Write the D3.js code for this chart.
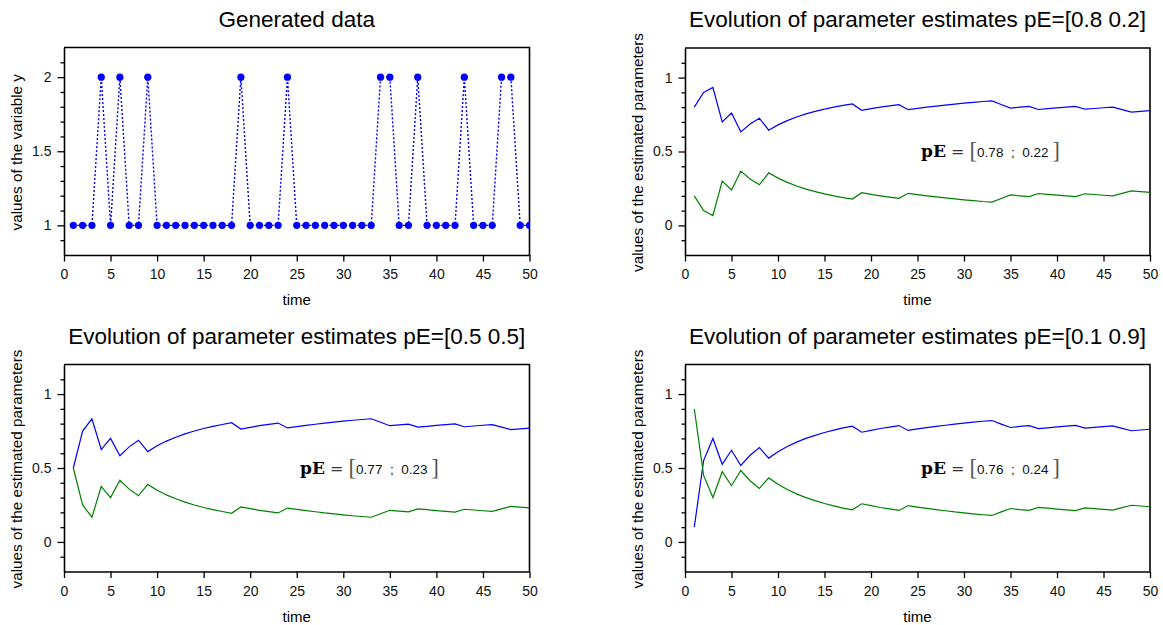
<!DOCTYPE html>
<html>
<head>
<meta charset="utf-8">
<script src="https://cdn.jsdelivr.net/npm/d3@7"></script>
<style>
  body { margin: 0; background: #fff; }
  svg { font-family: "Liberation Sans", Arial, sans-serif; }
</style>
</head>
<body>
<svg id="fig" width="1163" height="625"></svg>
<script>
// observations y(t), t = 1..50
const time = d3.range(1, 51)
const yData = [1,1,1,2,1,2,1,1,2,1, 1,1,1,1,1,1,1,1,2,1, 1,1,1,2,1,1,1,1,1,1,
               1,1,1,2,2,1,1,2,1,1, 1,1,2,1,1,1,2,2,1,1]

// estimates with prior pE=[0.8 0.2]
const est08_1 = [0.8,0.9,0.933,0.7,0.76,0.633,0.686,0.725,0.644,0.68,
  0.709,0.733,0.754,0.771,0.787,0.8,0.812,0.822,0.779,0.79,
  0.8,0.809,0.817,0.783,0.792,0.8,0.807,0.814,0.821,0.827,
  0.832,0.838,0.842,0.818,0.794,0.8,0.805,0.784,0.79,0.795,
  0.8,0.805,0.786,0.791,0.796,0.8,0.783,0.767,0.771,0.776]
const est08_2 = [0.2,0.1,0.067,0.3,0.24,0.367,0.314,0.275,0.356,0.32,
  0.291,0.267,0.246,0.229,0.213,0.2,0.188,0.178,0.221,0.21,
  0.2,0.191,0.183,0.217,0.208,0.2,0.193,0.186,0.179,0.173,
  0.168,0.162,0.158,0.182,0.206,0.2,0.195,0.216,0.21,0.205,
  0.2,0.195,0.214,0.209,0.204,0.2,0.217,0.233,0.229,0.224]

// estimates with prior pE=[0.5 0.5]
const est05_1 = [0.5,0.75,0.833,0.625,0.7,0.583,0.643,0.688,0.611,0.65,
  0.682,0.708,0.731,0.75,0.767,0.781,0.794,0.806,0.763,0.775,
  0.786,0.795,0.804,0.771,0.78,0.788,0.796,0.804,0.81,0.817,
  0.823,0.828,0.833,0.809,0.786,0.792,0.797,0.776,0.782,0.788,
  0.793,0.798,0.779,0.784,0.789,0.793,0.777,0.76,0.765,0.77]
const est05_2 = [0.5,0.25,0.167,0.375,0.3,0.417,0.357,0.312,0.389,0.35,
  0.318,0.292,0.269,0.25,0.233,0.219,0.206,0.194,0.237,0.225,
  0.214,0.205,0.196,0.229,0.22,0.212,0.204,0.196,0.19,0.183,
  0.177,0.172,0.167,0.191,0.214,0.208,0.203,0.224,0.218,0.212,
  0.207,0.202,0.221,0.216,0.211,0.207,0.223,0.24,0.235,0.23]

// estimates with prior pE=[0.1 0.9]
const est01_1 = [0.1,0.55,0.7,0.525,0.62,0.517,0.586,0.638,0.567,0.61,
  0.645,0.675,0.7,0.721,0.74,0.756,0.771,0.783,0.742,0.755,
  0.767,0.777,0.787,0.754,0.764,0.773,0.781,0.789,0.797,0.803,
  0.81,0.816,0.821,0.797,0.774,0.781,0.786,0.766,0.772,0.778,
  0.783,0.788,0.77,0.775,0.78,0.785,0.768,0.752,0.757,0.762]
const est01_2 = [0.9,0.45,0.3,0.475,0.38,0.483,0.414,0.362,0.433,0.39,
  0.355,0.325,0.3,0.279,0.26,0.244,0.229,0.217,0.258,0.245,
  0.233,0.223,0.213,0.246,0.236,0.227,0.219,0.211,0.203,0.197,
  0.19,0.184,0.179,0.203,0.226,0.219,0.214,0.234,0.228,0.222,
  0.217,0.212,0.23,0.225,0.22,0.215,0.232,0.248,0.243,0.238]

const xTicks = [0, 5, 10, 15, 20, 25, 30, 35, 40, 45, 50]
const yTicksData = [1, 1.5, 2]
const yTicksEst = [0, 0.5, 1]
const finals = [["0.78", "0.22"], ["0.77", "0.23"], ["0.76", "0.24"]]

const svg = d3.select('#fig')

function panel (box, yDomain, yMajor, yMinor, title, ylabel, id) {
    const g = svg.append('g')
    const x = d3.scaleLinear().domain([0, 50]).range([box.left, box.right])
    const y = d3.scaleLinear().domain(yDomain).range([box.bottom, box.top])

    /*clip*/
    svg.append('clipPath').attr('id', id)
        .append('rect')
        .attr('x', box.left).attr('y', box.top)
        .attr('width', box.right - box.left).attr('height', box.bottom - box.top)

    /*minor ticks*/
    g.append('g')
        .attr('transform', `translate(${box.left},0)`)
        .call(d3.axisLeft(y).tickValues(yMinor).tickSize(3.5).tickFormat(''))
        .call(a => a.select('.domain').remove())

    /*y axis*/
    g.append('g')
        .attr('class', 'ax')
        .attr('transform', `translate(${box.left},0)`)
        .call(d3.axisLeft(y).tickValues(yMajor).tickSize(6.5).tickPadding(6).tickSizeOuter(0)
            .tickFormat(d3.format('')))

    /*x axis*/
    g.append('g')
        .attr('class', 'ax')
        .attr('transform', `translate(0,${box.bottom})`)
        .call(d3.axisBottom(x).tickValues(xTicks).tickSize(6.5).tickPadding(8).tickSizeOuter(0))

    /*box top + right*/
    g.append('path')
        .attr('d', `M${box.left},${box.top}H${box.right}V${box.bottom}`)
        .attr('fill', 'none').attr('stroke', '#000').attr('stroke-width', 1.6)

    g.selectAll('.tick line').attr('stroke', '#000').attr('stroke-width', 1.3)
    g.selectAll('.domain').attr('stroke', '#000').attr('stroke-width', 1.6)
    g.selectAll('.tick text').attr('font-size', 14).attr('fill', '#111')
        .attr('font-family', '"Liberation Sans", Arial, sans-serif')

    const cx = (box.left + box.right) / 2
    g.append('text')
        .attr('x', cx).attr('y', box.top - 21)
        .attr('text-anchor', 'middle')
        .attr('font-size', 22.5)
        .text(title)

    g.append('text')
        .attr('x', cx).attr('y', box.bottom + 50)
        .attr('text-anchor', 'middle')
        .attr('font-size', 15)
        .text('time')

    g.append('text')
        .attr('transform', `translate(${box.left - 42},${(box.top + box.bottom) / 2 + 1}) rotate(-90)`)
        .attr('text-anchor', 'middle')
        .attr('font-size', 15.3)
        .text(ylabel)

    const plot = g.append('g').attr('clip-path', `url(#${id})`)
    return { x, y, plot, g }
}

function estPanel (box, s1, s2, title, fin, id) {
    const p = panel(box, [-0.2, 1.2], yTicksEst,
        [-0.1, 0.1, 0.2, 0.3, 0.4, 0.6, 0.7, 0.8, 0.9, 1.1], title,
        'values of the estimated parameters', id)
    const line = d3.line().x((d, i) => p.x(time[i])).y(d => p.y(d))
    p.plot.append('path').datum(s1).attr('d', line)
        .attr('fill', 'none').attr('stroke', '#0000ff').attr('stroke-width', 1.2)
    p.plot.append('path').datum(s2).attr('d', line)
        .attr('fill', 'none').attr('stroke', '#008000').attr('stroke-width', 1.2)

    /*pE annotation*/
    const t = p.g.append('text')
        .attr('x', box.left + 236).attr('y', p.y(0.46))
        .attr('xml:space', 'preserve')
    t.append('tspan').attr('font-family', '"DejaVu Serif", serif').attr('font-weight', 'bold')
        .attr('font-size', 17).text('pE')
    t.append('tspan').attr('font-family', '"DejaVu Serif", serif').attr('font-size', 16)
        .attr('fill', '#333').text(' = ')
    t.append('tspan').attr('font-family', '"Liberation Serif", serif').attr('font-size', 23)
        .attr('fill', '#555').attr('dy', 1).text('[')
    t.append('tspan').attr('font-size', 13.5).attr('fill', '#111').attr('dy', -1)
        .text(`${fin[0]}  ;  ${fin[1]} `)
    t.append('tspan').attr('font-family', '"Liberation Serif", serif').attr('font-size', 23)
        .attr('fill', '#555').attr('dy', 1).text(']')
}

/*generated data*/
const p0 = panel({ left: 64, right: 529.5, top: 47.5, bottom: 255 }, [0.8, 2.2], yTicksData,
    [0.9, 1.1, 1.2, 1.3, 1.4, 1.6, 1.7, 1.8, 1.9, 2.1], 'Generated data',
    'values of the variable y', 'c0')
p0.plot.append('path').datum(yData)
    .attr('d', d3.line().x((d, i) => p0.x(time[i])).y(d => p0.y(d)))
    .attr('fill', 'none').attr('stroke', '#0000ff').attr('stroke-width', 1.4)
    .attr('stroke-dasharray', '2,2')
p0.plot.selectAll('circle').data(yData).enter().append('circle')
    .attr('cx', (d, i) => p0.x(time[i])).attr('cy', d => p0.y(d))
    .attr('r', 3.6).attr('fill', '#0000ff')

estPanel({ left: 685, right: 1150, top: 48, bottom: 255 }, est08_1, est08_2,
    'Evolution of parameter estimates pE=[0.8 0.2]', finals[0], 'c1')
estPanel({ left: 64, right: 529.5, top: 364.5, bottom: 571.5 }, est05_1, est05_2,
    'Evolution of parameter estimates pE=[0.5 0.5]', finals[1], 'c2')
estPanel({ left: 685, right: 1150, top: 364.5, bottom: 571.5 }, est01_1, est01_2,
    'Evolution of parameter estimates pE=[0.1 0.9]', finals[2], 'c3')
</script>
</body>
</html>
